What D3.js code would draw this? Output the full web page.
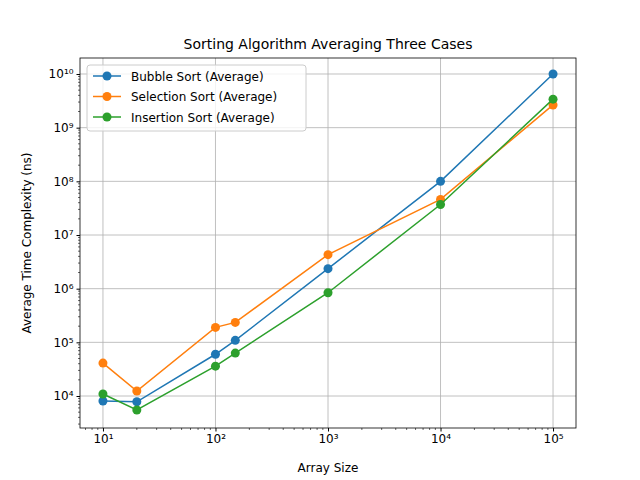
<!DOCTYPE html><html><head><script src="https://cdn.jsdelivr.net/npm/d3@7"></script>
<style>body{margin:0;background:#fff}text{font-family:"DejaVu Sans",sans-serif}</style></head><body><svg width="640" height="480"></svg>
<script>
const sizes=[10,20,100,150,1000,10000,100000];
const bubble=[8080,7800,60000,109000,2.36e6,1e8,1e10];
const selection=[41000,12400,190000,235000,4.3e6,4.6e7,2.65e9];
const insertion=[10900,5500,36000,63000,8.4e5,3.7e7,3.4e9];
const names=["Bubble Sort (Average)","Selection Sort (Average)","Insertion Sort (Average)"];
const colors=["#1f77b4","#ff7f0e","#2ca02c"];
const series=[bubble,selection,insertion];
const L=80,R=576,T=58,B=428;
const x=d3.scaleLog().domain([Math.pow(10,0.796),Math.pow(10,5.204)]).range([L,R]);
const y=d3.scaleLog().domain([Math.pow(10,3.404),Math.pow(10,10.298)]).range([B,T]);
const svg=d3.select("svg");
const xt=[10,100,1000,10000,100000], yt=[1e4,1e5,1e6,1e7,1e8,1e9,1e10];
const sup=n=>String(n).split("").map(c=>"⁰¹²³⁴⁵⁶⁷⁸⁹"[+c]).join("");
svg.append("g").selectAll("line").data(xt).join("line").attr("x1",d=>x(d)).attr("x2",d=>x(d)).attr("y1",T).attr("y2",B).attr("stroke","#b0b0b0").attr("stroke-width",0.8);
svg.append("g").selectAll("line").data(yt).join("line").attr("y1",d=>y(d)).attr("y2",d=>y(d)).attr("x1",L).attr("x2",R).attr("stroke","#b0b0b0").attr("stroke-width",0.8);
const gx=svg.append("g").attr("transform",`translate(0,${B})`).call(d3.axisBottom(x).tickValues(xt).tickFormat(d=>"10"+sup(Math.round(Math.log10(d)))).tickSizeOuter(0).tickSize(3.5));
const gy=svg.append("g").attr("transform",`translate(${L},0)`).call(d3.axisLeft(y).tickValues(yt).tickFormat(d=>"10"+sup(Math.round(Math.log10(d)))).tickSizeOuter(0).tickSize(3.5));
// minor ticks
const minx=[],miny=[];
for(let e=0;e<6;e++)for(let k=2;k<10;k++){const v=k*Math.pow(10,e);if(v>x.domain()[0]&&v<x.domain()[1])minx.push(v);}
for(let e=3;e<11;e++)for(let k=2;k<10;k++){const v=k*Math.pow(10,e);if(v>y.domain()[0]&&v<y.domain()[1])miny.push(v);}
svg.append("g").selectAll("line").data(minx).join("line").attr("x1",d=>x(d)).attr("x2",d=>x(d)).attr("y1",B).attr("y2",B+2).attr("stroke","#000").attr("stroke-width",0.6);
svg.append("g").selectAll("line").data(miny).join("line").attr("y1",d=>y(d)).attr("y2",d=>y(d)).attr("x1",L).attr("x2",L-2).attr("stroke","#000").attr("stroke-width",0.6);
[gx,gy].forEach(g=>{g.selectAll("text").attr("font-size",12).attr("fill","#000");g.select(".domain").remove();});
svg.append("rect").attr("x",L).attr("y",T).attr("width",R-L).attr("height",B-T).attr("fill","none").attr("stroke","#000").attr("stroke-width",0.8);
const line=d3.line().x((d,i)=>x(sizes[i])).y(d=>y(d));
series.forEach((s,j)=>{
 svg.append("path").datum(s).attr("d",line).attr("fill","none").attr("stroke",colors[j]).attr("stroke-width",1.5);
 svg.append("g").selectAll("circle").data(s).join("circle").attr("cx",(d,i)=>x(sizes[i])).attr("cy",d=>y(d)).attr("r",4.5).attr("fill",colors[j]);
});
svg.append("text").attr("x",(L+R)/2).attr("y",49).attr("text-anchor","middle").attr("font-size",14).text("Sorting Algorithm Averaging Three Cases");
svg.append("text").attr("x",(L+R)/2).attr("y",472).attr("text-anchor","middle").attr("font-size",12).text("Array Size");
svg.append("text").attr("transform",`translate(31,${(T+B)/2}) rotate(-90)`).attr("text-anchor","middle").attr("font-size",12).text("Average Time Complexity (ns)");
const lg=svg.append("g").attr("transform","translate(87,65)");
lg.append("rect").attr("width",219).attr("height",66).attr("rx",3).attr("fill","#fff").attr("fill-opacity",0.8).attr("stroke","#ccc");
names.forEach((n,j)=>{const yy=11+j*20.5;
 lg.append("line").attr("x1",6).attr("x2",34).attr("y1",yy).attr("y2",yy).attr("stroke",colors[j]).attr("stroke-width",1.5);
 lg.append("circle").attr("cx",20).attr("cy",yy).attr("r",4.5).attr("fill",colors[j]);
 lg.append("text").attr("x",44).attr("y",yy+4.5).attr("font-size",12).text(n);});
</script></body></html>
